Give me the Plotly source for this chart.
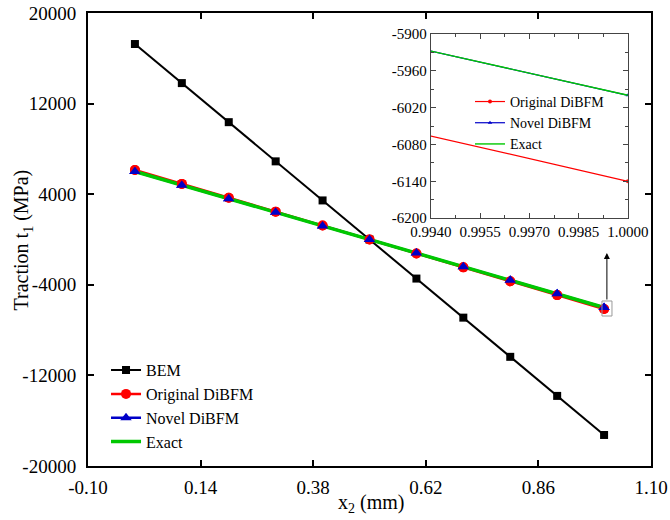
import plotly.graph_objects as go

# ---------------- data ----------------
x2 = [0.0, 0.1, 0.2, 0.3, 0.4, 0.5, 0.6, 0.7, 0.8, 0.9, 1.0]
bem = [17260, 13810, 10360, 6900, 3450, 0, -3450, -6900, -10360, -13810, -17260]
original = [6140, 4910, 3680, 2460, 1230, 0, -1230, -2460, -3680, -4910, -6140]
novel = [6000, 4800, 3600, 2400, 1200, 0, -1200, -2400, -3600, -4800, -6000]
exact = [6000, 4800, 3600, 2400, 1200, 0, -1200, -2400, -3600, -4800, -6000]

x_tickvals = [-0.10, 0.14, 0.38, 0.62, 0.86, 1.10]
x_ticktext = ["-0.10", "0.14", "0.38", "0.62", "0.86", "1.10"]
y_tickvals = [-20000, -12000, -4000, 4000, 12000, 20000]
y_ticktext = ["-20000", "-12000", "-4000", "4000", "12000", "20000"]

ix_tickvals = [0.9940, 0.9955, 0.9970, 0.9985, 1.0000]
ix_ticktext = ["0.9940", "0.9955", "0.9970", "0.9985", "1.0000"]
iy_tickvals = [-6200, -6140, -6080, -6020, -5960, -5900]
iy_ticktext = ["-6200", "-6140", "-6080", "-6020", "-5960", "-5900"]

FONT = "Liberation Serif"
RED = "#ff0000"
BLUE = "#0000c8"
GREEN = "#00c800"

fig = go.Figure()

# main plot: lines (with legend)
fig.add_trace(go.Scatter(x=x2, y=bem, mode="lines+markers", name="BEM",
                         line=dict(color="black", width=2),
                         marker=dict(symbol="square", size=8, color="black")))
fig.add_trace(go.Scatter(x=x2, y=original, mode="lines+markers", name="Original DiBFM",
                         line=dict(color=RED, width=2.5),
                         marker=dict(symbol="circle", size=10, color=RED)))
fig.add_trace(go.Scatter(x=x2, y=novel, mode="lines+markers", name="Novel DiBFM",
                         line=dict(color=BLUE, width=2.5),
                         marker=dict(symbol="triangle-up", size=10, color=BLUE)))
fig.add_trace(go.Scatter(x=x2, y=exact, mode="lines", name="Exact",
                         line=dict(color=GREEN, width=3.5)))
# markers on top of the green line
fig.add_trace(go.Scatter(x=x2, y=original, mode="markers", showlegend=False,
                         marker=dict(symbol="circle", size=10, color=RED)))
fig.add_trace(go.Scatter(x=x2, y=novel, mode="markers", showlegend=False,
                         marker=dict(symbol="triangle-up", size=10, color=BLUE)))

# inset
fig.add_trace(go.Scatter(x=x2, y=original, mode="lines+markers", name="Original DiBFM",
                         xaxis="x2", yaxis="y2", legend="legend2",
                         line=dict(color=RED, width=1.2),
                         marker=dict(symbol="circle", size=4, color=RED)))
fig.add_trace(go.Scatter(x=x2, y=novel, mode="lines+markers", name="Novel DiBFM",
                         xaxis="x2", yaxis="y2", legend="legend2",
                         line=dict(color=BLUE, width=1.2),
                         marker=dict(symbol="triangle-up", size=4, color=BLUE)))
fig.add_trace(go.Scatter(x=x2, y=exact, mode="lines", name="Exact",
                         xaxis="x2", yaxis="y2", legend="legend2",
                         line=dict(color=GREEN, width=1.4)))

axis_common = dict(showline=True, linecolor="black", linewidth=2, mirror="ticks",
                   ticks="inside", ticklen=6, tickwidth=2, tickcolor="black",
                   showgrid=False, zeroline=False, automargin=False,
                   tickfont=dict(family=FONT, size=19, color="black"))

inset_common = dict(showline=True, linecolor="#444", linewidth=1.2, mirror="ticks",
                    ticks="inside", ticklen=5, tickwidth=1, tickcolor="#444",
                    showgrid=False, zeroline=False, automargin=False,
                    tickfont=dict(family=FONT, size=15, color="black"))

ix_minor = [(a + b) / 2 for a, b in zip(ix_tickvals[:-1], ix_tickvals[1:])]
iy_minor = [(a + b) / 2 for a, b in zip(iy_tickvals[:-1], iy_tickvals[1:])]

fig.update_layout(
    template="none",
    width=670, height=520,
    margin=dict(l=88, r=19, t=13, b=54, pad=0),
    paper_bgcolor="white", plot_bgcolor="white",
    font=dict(family=FONT, size=17, color="black"),
    hovermode=False,
    xaxis=dict(range=[-0.10, 1.10], tickmode="array", tickvals=x_tickvals,
               ticktext=x_ticktext, domain=[0, 1], ticklabelstandoff=3,
               **axis_common),
    yaxis=dict(range=[-20000, 20000], tickmode="array", tickvals=y_tickvals,
               ticktext=y_ticktext, domain=[0, 1], ticklabelstandoff=6,
               **axis_common),
    xaxis2=dict(range=[0.9940, 1.0000], domain=[0.609, 0.959], anchor="y2",
                tickmode="array", tickvals=ix_tickvals, ticktext=ix_ticktext,
                minor=dict(tickvals=ix_minor, ticks="inside", ticklen=3, tickcolor="#444"),
                **inset_common),
    yaxis2=dict(range=[-6200, -5900], domain=[0.547, 0.954], anchor="x2",
                tickmode="array", tickvals=iy_tickvals, ticktext=iy_ticktext,
                minor=dict(tickvals=iy_minor, ticks="inside", ticklen=3, tickcolor="#444"),
                **inset_common),
    legend=dict(x=0.032, y=0.249, xanchor="left", yanchor="top",
                bgcolor="rgba(0,0,0,0)", font=dict(family=FONT, size=16),
                tracegroupgap=0, itemwidth=30, borderwidth=0),
    legend2=dict(x=0.6785, y=0.839, xanchor="left", yanchor="top",
                 bgcolor="rgba(0,0,0,0)", font=dict(family=FONT, size=14),
                 tracegroupgap=0, itemwidth=30, borderwidth=0),
    showlegend=True,
)

# axis titles as annotations
fig.add_annotation(text="x<sub>2</sub> (mm)", xref="paper", yref="paper",
                   x=0.503, y=-0.0817, xanchor="center", yanchor="middle",
                   showarrow=False, font=dict(family=FONT, size=20, color="black"))
fig.add_annotation(text="Traction t<sub>1</sub> (MPa)", xref="paper", yref="paper",
                   x=-0.1155, y=0.5, xanchor="center", yanchor="middle", textangle=-90,
                   showarrow=False, font=dict(family=FONT, size=20, color="black"))

# zoom box and arrow
fig.add_shape(type="rect", xref="x", yref="y", x0=0.9955, x1=1.0168, y0=-6755, y1=-5430,
              line=dict(color="#999", width=1))
fig.add_annotation(x=1.006, y=-1190, ax=1.006, ay=-5430, xref="x", yref="y",
                   axref="x", ayref="y", text="", showarrow=True,
                   arrowhead=2, arrowsize=1.2, arrowwidth=1, arrowcolor="black")

fig.write_html("out.html")
